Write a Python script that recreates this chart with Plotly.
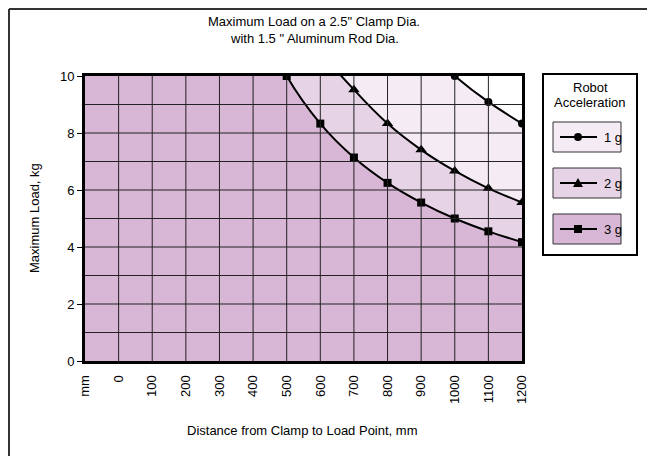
import plotly.graph_objects as go

# ---------------- data ----------------
categories = ["mm", "0", "100", "200", "300", "400", "500", "600",
              "700", "800", "900", "1000", "1100", "1200"]
# values above 10 are clipped by the axis (not visible in the picture)
load_1g = [20, 20, 20, 20, 20, 20, 20, 16.7, 14.3, 12.5, 11.1, 10.0, 9.09, 8.33]
load_2g = [20, 20, 20, 20, 20, 16.7, 13.3, 10.9, 9.52, 8.33, 7.41, 6.67, 6.06, 5.56]
load_3g = [20, 20, 20, 20, 16.7, 12.5, 10.0, 8.33, 7.14, 6.25, 5.56, 5.00, 4.55, 4.17]
series_names = ["1 g", "2 g", "3 g"]
y_tick_values = [0, 2, 4, 6, 8, 10]

# ---------------- styling ----------------
FONT = "Liberation Sans, Arial, sans-serif"
fills = ["#F4EBF4", "#E6D3E6", "#D8B6D5"]
symbols = ["circle", "triangle-up", "square"]
sizes = [8, 10, 8]

W, H = 655, 456
OFF = 8  # page body margin offset
# plot area in screenshot pixels
Lr, Rr, Tr, Br = 85, 522, 76, 361
L, R, T, B = Lr - OFF, Rr - OFF, Tr - OFF, Br - OFF


def px(x):
    return (x - Lr) / (Rr - Lr)


def py(y):
    return (Br - y) / (Br - Tr)


xs = list(range(len(categories)))
fig = go.Figure()
for name, vals, col, sym, sz in zip(series_names, [load_1g, load_2g, load_3g],
                                     fills, symbols, sizes):
    fig.add_trace(go.Scatter(
        x=xs, y=vals, name=name, mode="lines+markers",
        fill="tozeroy", fillcolor=col,
        line=dict(color="black", width=2, shape="spline", smoothing=0.8),
        marker=dict(symbol=sym, size=sz, color="black"),
        showlegend=False, cliponaxis=True,
    ))

shapes = []
# gridlines above the filled areas
for i in xs[1:-1]:
    shapes.append(dict(type="line", xref="x", yref="y", x0=i, x1=i, y0=0, y1=10,
                       line=dict(color="#222222", width=1), layer="above"))
for v in range(1, 10):
    shapes.append(dict(type="line", xref="x", yref="y", x0=0, x1=xs[-1], y0=v, y1=v,
                       line=dict(color="#222222", width=1), layer="above"))

# outer chart frame (top and left edges)
shapes.append(dict(type="line", xref="paper", yref="paper", x0=px(9), x1=px(670),
                   y0=py(9), y1=py(9), line=dict(color="#333333", width=2)))
shapes.append(dict(type="line", xref="paper", yref="paper", x0=px(9), x1=px(9),
                   y0=py(9), y1=py(470), line=dict(color="#333333", width=2)))

# custom legend
shapes.append(dict(type="rect", xref="paper", yref="paper", x0=px(543), x1=px(637),
                   y0=py(255), y1=py(74), line=dict(color="black", width=2),
                   fillcolor="white"))
item_tops = [122, 168, 214]
annotations = []
for k, (name, col) in enumerate(zip(series_names, fills)):
    top = item_tops[k]
    cy = top + 15
    shapes.append(dict(type="rect", xref="paper", yref="paper", x0=px(553), x1=px(621),
                       y0=py(top + 30), y1=py(top), line=dict(color="#333333", width=1),
                       fillcolor=col))
    shapes.append(dict(type="line", xref="paper", yref="paper", x0=px(560), x1=px(597),
                       y0=py(cy), y1=py(cy), line=dict(color="black", width=2)))
    if symbols[k] == "circle":
        shapes.append(dict(type="circle", xref="paper", yref="paper",
                           xsizemode="pixel", ysizemode="pixel",
                           xanchor=px(578), yanchor=py(cy), x0=-4, x1=4, y0=-4, y1=4,
                           fillcolor="black", line=dict(color="black", width=0)))
    elif symbols[k] == "square":
        shapes.append(dict(type="rect", xref="paper", yref="paper",
                           xsizemode="pixel", ysizemode="pixel",
                           xanchor=px(578), yanchor=py(cy), x0=-4, x1=4, y0=-4, y1=4,
                           fillcolor="black", line=dict(color="black", width=0)))
    else:
        shapes.append(dict(type="path", xref="paper", yref="paper",
                           xsizemode="pixel", ysizemode="pixel",
                           xanchor=px(578), yanchor=py(cy),
                           path="M-5,-4 L5,-4 L0,5 Z",
                           fillcolor="black", line=dict(color="black", width=0)))
    annotations.append(dict(xref="paper", yref="paper", x=px(602), y=py(cy),
                            xanchor="left", yanchor="middle", showarrow=False,
                            text=name, font=dict(family=FONT, size=13, color="black")))

annotations.append(dict(xref="paper", yref="paper", x=px(590), y=py(87),
                        xanchor="center", yanchor="middle", showarrow=False,
                        text="Robot", font=dict(family=FONT, size=13, color="black")))
annotations.append(dict(xref="paper", yref="paper", x=px(590), y=py(103),
                        xanchor="center", yanchor="middle", showarrow=False,
                        text="Acceleration", font=dict(family=FONT, size=13, color="black")))

# titles
annotations.append(dict(xref="paper", yref="paper", x=px(314), y=py(21),
                        xanchor="center", yanchor="middle", showarrow=False,
                        text="Maximum Load on a 2.5\" Clamp Dia.",
                        font=dict(family=FONT, size=13, color="black")))
annotations.append(dict(xref="paper", yref="paper", x=px(314), y=py(38),
                        xanchor="center", yanchor="middle", showarrow=False,
                        text="with 1.5 \" Aluminum Rod Dia.",
                        font=dict(family=FONT, size=13, color="black")))
annotations.append(dict(xref="paper", yref="paper", x=px(302), y=py(430),
                        xanchor="center", yanchor="middle", showarrow=False,
                        text="Distance from Clamp to Load Point, mm",
                        font=dict(family=FONT, size=13, color="black")))
annotations.append(dict(xref="paper", yref="paper", x=px(34), y=py(218),
                        xanchor="center", yanchor="middle", showarrow=False,
                        textangle=-90, text="Maximum Load, kg",
                        font=dict(family=FONT, size=13, color="black")))

fig.update_layout(
    width=W, height=H,
    margin=dict(l=L, r=W - R, t=T, b=H - B, pad=0),
    paper_bgcolor="white", plot_bgcolor="white",
    font=dict(family=FONT, size=13, color="black"),
    shapes=shapes, annotations=annotations, showlegend=False,
    xaxis=dict(range=[0, xs[-1]], tickmode="array", tickvals=xs, ticktext=categories,
               tickangle=-90, ticks="", showgrid=False, zeroline=False,
               showline=True, mirror=True, linewidth=3, linecolor="black",
               layer="above traces", ticklabelstandoff=6,
               tickfont=dict(family=FONT, size=13, color="black")),
    yaxis=dict(range=[0, 10], tickmode="array", tickvals=y_tick_values,
               ticks="outside", ticklen=5, tickwidth=1, tickcolor="black",
               showgrid=False, zeroline=False,
               showline=True, mirror=True, linewidth=3, linecolor="black",
               layer="above traces", ticklabelstandoff=0,
               tickfont=dict(family=FONT, size=13, color="black")),
)

fig.write_html("out.html")
